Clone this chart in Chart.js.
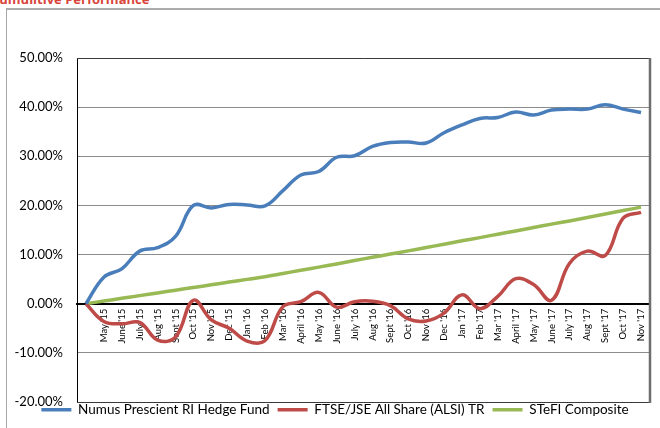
<!DOCTYPE html>
<html><head><meta charset="utf-8">
<script src="https://cdn.jsdelivr.net/npm/chart.js@4/dist/chart.umd.min.js"></script>
<style>
html,body{margin:0;padding:0;background:#fff;overflow:hidden}
#wrap{position:relative;width:660px;height:428px;overflow:hidden;background:#fff}
#frame{position:absolute;left:6px;top:8px;width:700px;height:500px;border-left:1px solid #a6a6a6;border-top:2px solid #acacac}
#title{position:absolute;left:-9px;top:-9px;font:bold 13px 'Open Sans',sans-serif;line-height:16px;color:#d9453b;white-space:nowrap}
canvas{position:absolute;left:0;top:0}
</style></head>
<body><div id="wrap"><div id="frame"></div><div id="title">Cumulitive Performance</div><canvas id="c" width="660" height="428"></canvas></div>
<script>
const months = ['', "May '15", "June '15", "July '15", "Aug '15", "Sept '15", "Oct '15", "Nov '15", "Dec '15",
  "Jan '16", "Feb '16", "Mar '16", "April '16", "May '16", "June '16", "July '16", "Aug '16", "Sept '16", "Oct '16", "Nov '16", "Dec '16",
  "Jan '17", "Feb '17", "Mar '17", "April '17", "May '17", "June '17", "July '17", "Aug '17", "Sept '17", "Oct '17", "Nov '17"];
const seriesNames = ['Numus Prescient RI Hedge Fund', 'FTSE/JSE All Share (ALSI) TR', 'STeFI Composite'];
const numus = [0, 5.4, 7.1, 10.7, 11.4, 13.7, 20.0, 19.5, 20.2, 20.1, 19.9, 23.0, 26.2, 26.9, 29.8, 30.1, 32.0, 32.8, 32.9, 32.7, 34.8, 36.4, 37.7, 37.9, 39.0, 38.4, 39.4, 39.6, 39.6, 40.5, 39.6, 38.9];
const alsi = [0, -3.6, -4.1, -3.8, -7.4, -6.8, 0.7, -3.3, -5.0, -7.6, -7.5, -0.6, 0.4, 2.3, -0.7, 0.4, 0.5, -0.4, -3.1, -3.5, -1.9, 1.8, -1.0, 1.5, 5.1, 3.9, 0.7, 8.2, 10.7, 9.8, 17.4, 18.6];
const stefi = [0, 0.55, 1.1, 1.65, 2.2, 2.75, 3.3, 3.85, 4.4, 4.95, 5.5, 6.15, 6.8, 7.45, 8.1, 8.8, 9.45, 10.1, 10.75, 11.45, 12.1, 12.8, 13.45, 14.15, 14.8, 15.5, 16.2, 16.85, 17.55, 18.25, 18.95, 19.65];
const yMin = -20, yMax = 50, yStep = 10;

const FONT = 'Lato, "Open Sans", sans-serif';

const framePlugin = {
  id: 'frame',
  beforeDatasetsDraw(chart) {
    const {ctx, chartArea: a} = chart;
    ctx.save();
    ctx.strokeStyle = '#3a3a3a'; ctx.lineWidth = 1;
    ctx.beginPath();
    ctx.moveTo(a.left, a.top + 0.5); ctx.lineTo(a.right, a.top + 0.5);
    ctx.moveTo(a.left, a.bottom + 0.5); ctx.lineTo(a.right, a.bottom + 0.5);
    ctx.stroke();
    ctx.strokeStyle = '#6e6e6e'; ctx.lineWidth = 2.5;
    ctx.beginPath();
    ctx.moveTo(a.right, a.top); ctx.lineTo(a.right, a.bottom + 1);
    ctx.stroke();
    ctx.restore();
  }
};
const legendShift = {
  id: 'legendShift',
  afterLayout(chart) {
    const l = chart.legend;
    if (!l) return;
    l.top -= 7; l.bottom -= 7;
    l.left += 10; l.right += 10;
  }
};

new Chart(document.getElementById('c'), {
  type: 'line',
  data: {
    labels: months,
    datasets: [
      {label: seriesNames[0], data: numus, borderColor: '#4A7EBB', backgroundColor: '#4A7EBB'},
      {label: seriesNames[1], data: alsi, borderColor: '#BE4B48', backgroundColor: '#BE4B48'},
      {label: seriesNames[2], data: stefi, borderColor: '#98B954', backgroundColor: '#98B954'}
    ]
  },
  options: {
    responsive: false,
    animation: false,
    elements: {line: {borderWidth: 3.5, tension: 0.4, fill: false, capBezierPoints: true}, point: {radius: 0}},
    layout: {padding: {top: 58, right: 10, left: 0, bottom: 0}},
    plugins: {
      tooltip: {enabled: false},
      legend: {
        position: 'bottom',
        maxHeight: 26,
        labels: {
          boxWidth: 30, boxHeight: 3.5, padding: 8, color: '#000',
          font: {family: FONT, size: 13.5},
          generateLabels(chart) {
            const items = Chart.defaults.plugins.legend.labels.generateLabels(chart);
            items.forEach(i => { i.lineWidth = 0; i.fillStyle = i.strokeStyle; });
            return items;
          }
        }
      }
    },
    scales: {
      x: {
        position: {y: 0},
        offset: true,
        grid: {display: false, drawTicks: false},
        border: {display: true, color: '#000', width: 2},
        ticks: {autoSkip: false, minRotation: 90, maxRotation: 90, padding: 5, color: '#000', font: {family: FONT, size: 9.5}}
      },
      y: {
        min: yMin, max: yMax,
        afterFit(s) { s.width = 77; },
        ticks: {stepSize: yStep, padding: 14, color: '#000', font: {family: FONT, size: 13},
          callback: v => v.toFixed(2) + '%'},
        grid: {drawTicks: false,
          color: c => (c.tick && c.tick.value === 0) ? '#000' : '#8c8c8c',
          lineWidth: c => (c.tick && c.tick.value === 0) ? 2 : 1},
        border: {display: true, color: '#000', width: 1}
      }
    }
  },
  plugins: [framePlugin, legendShift]
});
</script>
</body></html>
